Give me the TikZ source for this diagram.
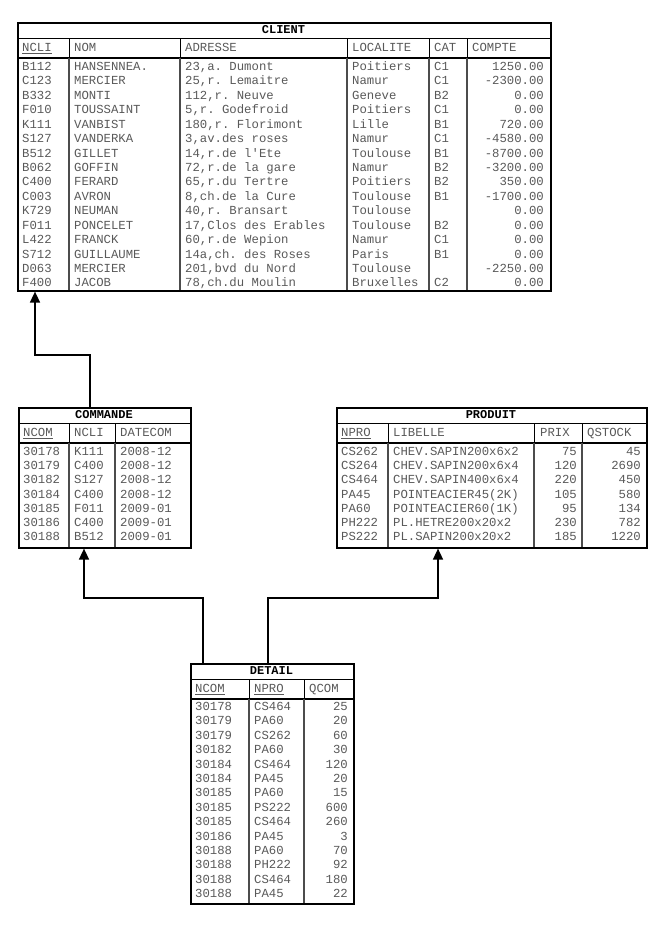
\documentclass[tikz,border=0pt]{standalone}
\usepackage{fontspec}
\setmonofont{Liberation Mono}
\usetikzlibrary{arrows.meta}

\begin{document}
\frenchspacing
\begin{tikzpicture}[
    x=1pt, y=-1pt,
    font=\ttfamily\fontsize{12.3}{13}\selectfont,
    cadre/.style={draw,line width=1.6pt,anchor=north west,inner sep=0pt},
    filet/.style={line width=0.6pt},
    entete/.style={line width=1.8pt},
    colonne/.style={line width=1.3pt,black!70},
    titre/.style={inner sep=0pt,font=\ttfamily\bfseries\fontsize{12}{12}\selectfont},
    cellule/.style={anchor=west,inner sep=0pt,text=black!65,text height=9.5pt,text depth=2.5pt},
    celluled/.style={cellule,anchor=east},
    fleche/.style={line width=1.6pt,-{Triangle[width=10pt,length=11pt]}}]

  \useasboundingbox (0,0) rectangle (671,930);

  % ---- CLIENT -----------------------------------------------------------------
  \node[cadre,minimum width=533pt,minimum height=268pt] (client) at (17,22) {};
  \node[titre] (client-t) at (283.5,30) {CLIENT};
  \draw[filet]  (17,38) -- (550,38);
  \draw[entete] (17,58) -- (550,58);
  \foreach \x in {69,180,347,429,467} {
    \draw[filet]   (\x,38) -- (\x,58);
    \draw[colonne] (\x,58) -- (\x,290);
  }
  \node[cellule] (client-h1) at (22,48)  {\underline{NCLI}};
  \node[cellule] (client-h2) at (74,48)  {NOM};
  \node[cellule] (client-h3) at (185,48) {ADRESSE};
  \node[cellule] (client-h4) at (352,48) {LOCALITE};
  \node[cellule] (client-h5) at (434,48) {CAT};
  \node[cellule] (client-h6) at (472,48) {COMPTE};
  \foreach \a/\b/\c/\d/\e/\f [count=\r] in {
      B112/HANSENNEA./{23,a. Dumont}/Poitiers/C1/1250.00,
      C123/MERCIER/{25,r. Lemaitre}/Namur/C1/-2300.00,
      B332/MONTI/{112,r. Neuve}/Geneve/B2/0.00,
      F010/TOUSSAINT/{5,r. Godefroid}/Poitiers/C1/0.00,
      K111/VANBIST/{180,r. Florimont}/Lille/B1/720.00,
      S127/VANDERKA/{3,av.des roses}/Namur/C1/-4580.00,
      B512/GILLET/{14,r.de l'Ete}/Toulouse/B1/-8700.00,
      B062/GOFFIN/{72,r.de la gare}/Namur/B2/-3200.00,
      C400/FERARD/{65,r.du Tertre}/Poitiers/B2/350.00,
      C003/AVRON/{8,ch.de la Cure}/Toulouse/B1/-1700.00,
      K729/NEUMAN/{40,r. Bransart}/Toulouse//0.00,
      F011/PONCELET/{17,Clos des Erables}/Toulouse/B2/0.00,
      L422/FRANCK/{60,r.de Wepion}/Namur/C1/0.00,
      S712/GUILLAUME/{14a,ch. des Roses}/Paris/B1/0.00,
      D063/MERCIER/{201,bvd du Nord}/Toulouse//-2250.00,
      F400/JACOB/{78,ch.du Moulin}/Bruxelles/C2/0.00} {
    \node[cellule]  (client-\r-a) at (22,{67+(\r-1)*14.43})  {\a};
    \node[cellule]  (client-\r-b) at (74,{67+(\r-1)*14.43})  {\b};
    \node[cellule]  (client-\r-c) at (185,{67+(\r-1)*14.43}) {\c};
    \node[cellule]  (client-\r-d) at (352,{67+(\r-1)*14.43}) {\d};
    \node[cellule]  (client-\r-e) at (434,{67+(\r-1)*14.43}) {\e};
    \node[celluled] (client-\r-f) at (544,{67+(\r-1)*14.43}) {\f};
  }

  % ---- COMMANDE ---------------------------------------------------------------
  \node[cadre,minimum width=172pt,minimum height=140pt] (commande) at (18,407) {};
  \node[titre] (commande-t) at (104,415) {COMMANDE};
  \draw[filet]  (18,423) -- (190,423);
  \draw[entete] (18,443) -- (190,443);
  \foreach \x in {69,115} {
    \draw[filet]   (\x,423) -- (\x,443);
    \draw[colonne] (\x,443) -- (\x,547);
  }
  \node[cellule] (commande-h1) at (23,433)  {\underline{NCOM}};
  \node[cellule] (commande-h2) at (74,433)  {NCLI};
  \node[cellule] (commande-h3) at (120,433) {DATECOM};
  \foreach \a/\b/\c [count=\r] in {
      30178/K111/2008-12, 30179/C400/2008-12, 30182/S127/2008-12,
      30184/C400/2008-12, 30185/F011/2009-01, 30186/C400/2009-01,
      30188/B512/2009-01} {
    \node[cellule] (commande-\r-a) at (23,{452+(\r-1)*14.2})  {\a};
    \node[cellule] (commande-\r-b) at (74,{452+(\r-1)*14.2})  {\b};
    \node[cellule] (commande-\r-c) at (120,{452+(\r-1)*14.2}) {\c};
  }

  % ---- PRODUIT ----------------------------------------------------------------
  \node[cadre,minimum width=310pt,minimum height=140pt] (produit) at (336,407) {};
  \node[titre] (produit-t) at (491,415) {PRODUIT};
  \draw[filet]  (336,423) -- (646,423);
  \draw[entete] (336,443) -- (646,443);
  \foreach \x in {388,534,582} {
    \draw[filet]   (\x,423) -- (\x,443);
    \draw[colonne] (\x,443) -- (\x,547);
  }
  \node[cellule] (produit-h1) at (341,433) {\underline{NPRO}};
  \node[cellule] (produit-h2) at (393,433) {LIBELLE};
  \node[cellule] (produit-h3) at (540,433) {PRIX};
  \node[cellule] (produit-h4) at (587,433) {QSTOCK};
  \foreach \a/\b/\c/\d [count=\r] in {
      CS262/CHEV.SAPIN200x6x2/75/45,
      CS264/CHEV.SAPIN200x6x4/120/2690,
      CS464/CHEV.SAPIN400x6x4/220/450,
      PA45/POINTEACIER45(2K)/105/580,
      PA60/POINTEACIER60(1K)/95/134,
      PH222/PL.HETRE200x20x2/230/782,
      PS222/PL.SAPIN200x20x2/185/1220} {
    \node[cellule]  (produit-\r-a) at (341,{452+(\r-1)*14.2}) {\a};
    \node[cellule]  (produit-\r-b) at (393,{452+(\r-1)*14.2}) {\b};
    \node[celluled] (produit-\r-c) at (577,{452+(\r-1)*14.2}) {\c};
    \node[celluled] (produit-\r-d) at (641,{452+(\r-1)*14.2}) {\d};
  }

  % ---- DETAIL -----------------------------------------------------------------
  \node[cadre,minimum width=163pt,minimum height=240pt] (detail) at (190,663) {};
  \node[titre] (detail-t) at (271.5,671) {DETAIL};
  \draw[filet]  (190,679) -- (353,679);
  \draw[entete] (190,699) -- (353,699);
  \foreach \x in {249,304} {
    \draw[filet]   (\x,679) -- (\x,699);
    \draw[colonne] (\x,699) -- (\x,903);
  }
  \node[cellule] (detail-h1) at (195,689) {\underline{NCOM}};
  \node[cellule] (detail-h2) at (254,689) {\underline{NPRO}};
  \node[cellule] (detail-h3) at (309,689) {QCOM};
  \foreach \a/\b/\c [count=\r] in {
      30178/CS464/25, 30179/PA60/20, 30179/CS262/60, 30182/PA60/30,
      30184/CS464/120, 30184/PA45/20, 30185/PA60/15, 30185/PS222/600,
      30185/CS464/260, 30186/PA45/3, 30188/PA60/70, 30188/PH222/92,
      30188/CS464/180, 30188/PA45/22} {
    \node[cellule]  (detail-\r-a) at (195,{707+(\r-1)*14.4}) {\a};
    \node[cellule]  (detail-\r-b) at (254,{707+(\r-1)*14.4}) {\b};
    \node[celluled] (detail-\r-c) at (348,{707+(\r-1)*14.4}) {\c};
  }

  % ---- les cles etrangeres ----------------------------------------------------
  \draw[fleche] ([xshift=72pt]commande.north west) -- ++(0,-52) -| ([xshift=18pt]client.south west);
  \draw[fleche] ([xshift=13pt]detail.north west) -- ++(0,-65) -| ([xshift=66pt]commande.south west);
  \draw[fleche] ([xshift=78pt]detail.north west) -- ++(0,-65) -| ([xshift=102pt]produit.south west);

\end{tikzpicture}
\end{document}
